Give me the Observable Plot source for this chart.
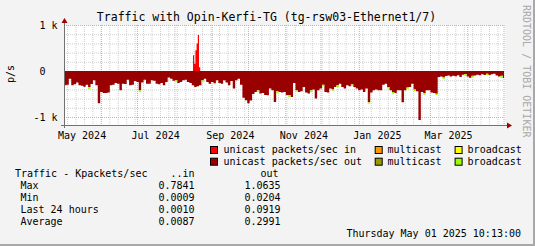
<!DOCTYPE html>
<html><head><meta charset="utf-8">
<script src="https://cdn.jsdelivr.net/npm/d3@7"></script>
<script src="https://cdn.jsdelivr.net/npm/@observablehq/plot@0.6"></script>
<style>
html,body{margin:0;padding:0;background:#f3f3f3;}
#chart{position:relative;width:535px;height:246px;overflow:hidden;}
#chart svg{display:block;}
</style></head><body><div id="chart"></div>
<script>
// ---------- data ----------
const startTime = "2024-05-01T10:13:00Z";
const endTime = "2025-05-01T10:13:00Z";
const binDays = 2;
// unicast packets/sec out (plotted negative), one value per 2-day bin
const unicastOut = [
 -311,-300,-166,-311,-290,-250,-311,-320,-340,-300,
 -350,-280,-200,-311,-700,-456,-478,-478,-470,-311,
 -300,-260,-275,-420,-275,-280,-188,-311,-300,-220,
 -238,-420,-250,-190,-275,-275,-202,-210,-275,-290,
 -260,-311,-240,-140,-166,-210,-200,-260,-238,-202,
 -188,-238,-260,-311,-347,-330,-311,-202,-166,-238,
 -275,-238,-260,-202,-260,-275,-202,-250,-311,-220,
 -383,-202,-166,-300,-579,-637,-700,-640,-500,-456,
 -420,-490,-478,-520,-528,-383,-420,-673,-440,-456,
 -470,-456,-520,-528,-565,-260,-420,-456,-440,-347,
 -470,-490,-420,-400,-600,-420,-383,-300,-456,-470,
 -383,-400,-347,-311,-275,-347,-383,-311,-330,-290,
 -347,-383,-420,-400,-456,-383,-680,-470,-420,-400,
 -420,-420,-300,-275,-347,-420,-456,-478,-420,-420,
 -680,-420,-360,-347,-275,-400,-440,-1063,-456,-478,
 -420,-420,-470,-478,-492,-130,-120,-140,-110,-100,
 -120,-105,-115,-95,-130,-80,-65,-120,-145,-105,
 -100,-80,-90,-70,-85,-60,-85,-70,-60,-100,
 -120,-105,-150
];
// broadcast out (stacked below unicast out): bin index and value
const broadcastOutBins = [10,31,46,57,62,80,88,93,96,102,107,111,113,119,126,134,136,142,145,149,154,157,166,169,175,181];
const broadcastOutValues = [40,35,30,40,30,35,40,35,30,40,35,30,40,35,30,35,40,30,35,40,35,30,35,30,35,40];
// unicast packets/sec in: daily values from day 107
const unicastInStartDay = 107;
const unicastIn = [340,160,450,600,784,80];

const tickMonths = ["2024-05-01","2024-07-01","2024-09-01","2024-11-01","2025-01-01","2025-03-01"];
const tickLabels = ["May 2024","Jul 2024","Sep 2024","Nov 2024","Jan 2025","Mar 2025"];
const yTicks = [-1000, 0, 1000];
const yTickLabels = ["-1 k", "0\u00a0\u00a0", "1 k"];
const yMin = -1174, yMax = 1000;

const colors = {
  uIn:"#ff0000", mIn:"#ff9900", bIn:"#ffff00",
  uOut:"#990000", mOut:"#999900", bOut:"#99ff00",
  grid:"#cfcfcf", mgrid:"#e8a3a3", axis:"#707070", arrow:"#a00000"
};

const legendRows = [
  [["unicast packets/sec in", colors.uIn], ["multicast", colors.mIn], ["broadcast", colors.bIn]],
  [["unicast packets/sec out", colors.uOut], ["multicast", colors.mOut], ["broadcast", colors.bOut]]
];
const statsTitle = "Traffic - Kpackets/sec";
const statsHeaders = ["..in", "out"];
const statsLabels = ["Max", "Min", "Last 24 hours", "Average"];
const statsIn = ["0.7841", "0.0009", "0.0010", "0.0087"];
const statsOut = ["1.0635", "0.0204", "0.0919", "0.2991"];
const titleText = "Traffic with Opin-Kerfi-TG (tg-rsw03-Ethernet1/7)";
const yLabel = "p/s";
const watermark = "RRDTOOL / TOBI OETIKER";
const stamp = "Thursday May 01 2025 10:13:00";

// ---------- build ----------
const DAY = 86400000;
const t0 = new Date(startTime), t1 = new Date(endTime);
const outData = unicastOut.map((v, i) => ({date: new Date(+t0 + i * binDays * DAY), v}));
outData.push({date: t1, v: unicastOut[unicastOut.length - 1]});
const bcData = broadcastOutBins.map((k, i) => ({
  date: new Date(+t0 + k * binDays * DAY),
  end: new Date(+t0 + (k + 1) * binDays * DAY),
  top: unicastOut[k],
  bottom: unicastOut[k] - broadcastOutValues[i]
}));
const inData = unicastIn.map((v, i) => ({date: new Date(+t0 + (unicastInStartDay + i) * DAY), v}));
inData.push({date: new Date(+t0 + (unicastInStartDay + unicastIn.length) * DAY), v: 0});

const weeks = d3.utcSaturday.range(t0, t1);
const months = d3.utcMonth.range(t0, t1);
const minorY = d3.range(-1000, 1001, 200).filter(v => v % 1000 !== 0);
const majorY = yTicks;
const tickDates = tickMonths.map(s => new Date(+new Date(s + "T00:00:00Z") + 15 * DAY));
const labelMap = new Map(tickDates.map((d, i) => [+d, tickLabels[i]]));
const yLabelMap = new Map(yTicks.map((v, i) => [v, yTickLabels[i]]));

const FONT = "'DejaVu Sans Mono', monospace";
const chart = Plot.plot({
  width: 535, height: 246,
  marginLeft: 64, marginRight: 31, marginTop: 25, marginBottom: 121,
  style: {fontFamily: FONT, fontSize: "10px", background: "#f3f3f3", color: "#000"},
  x: {type: "utc", domain: [t0, t1], label: null},
  y: {domain: [yMin, yMax], label: null},
  marks: [
    Plot.frame({fill: "#ffffff", stroke: "none"}),
    Plot.ruleX(weeks, {stroke: colors.grid, strokeDasharray: "1,1"}),
    Plot.ruleY(minorY, {stroke: colors.grid, strokeDasharray: "1,1"}),
    Plot.ruleX(months, {stroke: colors.mgrid, strokeDasharray: "1,1"}),
    Plot.ruleY(majorY, {stroke: colors.mgrid, strokeDasharray: "1,1"}),
    Plot.areaY(outData, {x: "date", y: "v", curve: "step-after", fill: colors.uOut}),
    Plot.rect(bcData, {x1: "date", x2: "end", y1: "top", y2: "bottom", fill: colors.bOut}),
    Plot.areaY(inData, {x: "date", y: "v", curve: "step-after", fill: colors.uIn}),
    Plot.axisX(tickDates, {tickFormat: d => labelMap.get(+d), tickSize: 0, tickPadding: 6, fontSize: 10}),
    Plot.axisY(yTicks, {tickFormat: v => yLabelMap.get(v), tickSize: 0, tickPadding: 7, fontSize: 10})
  ]
});
document.getElementById("chart").appendChild(chart);

const svg = d3.select(chart);
const xs = chart.scale("x"), ys = chart.scale("y");
const L = Math.round(xs.apply(t0)), R = Math.round(xs.apply(t1));
const T = Math.round(ys.apply(yMax)), B = Math.round(ys.apply(yMin));

// axes with arrows
const g = svg.append("g");
g.append("line").attr("x1", L + 0.5).attr("x2", L + 0.5).attr("y1", T - 5).attr("y2", B + 3)
  .attr("stroke", colors.axis).attr("stroke-width", 1);
g.append("line").attr("x1", L - 3).attr("x2", R + 4).attr("y1", B + 0.5).attr("y2", B + 0.5)
  .attr("stroke", colors.axis).attr("stroke-width", 1);
g.append("path").attr("d", `M${L - 2.5},${T - 2}L${L + 3.5},${T - 2}L${L + 0.5},${T - 7}Z`).attr("fill", colors.arrow);
g.append("path").attr("d", `M${R + 3},${B - 2.5}L${R + 3},${B + 3.5}L${R + 8},${B + 0.5}Z`).attr("fill", colors.arrow);

// border shade
g.append("rect").attr("x", 0).attr("y", 244).attr("width", 535).attr("height", 2).attr("fill", "#a8a8a8");
g.append("rect").attr("x", 533).attr("y", 0).attr("width", 2).attr("height", 246).attr("fill", "#a8a8a8");

const txt = (x, y, s, opts = {}) => {
  const t = svg.append("text").attr("x", x).attr("y", y).text(s)
    .attr("font-family", FONT).attr("font-size", opts.size || 10)
    .attr("fill", opts.fill || "#000").attr("text-anchor", opts.anchor || "start")
    .style("white-space", "pre");
  if (opts.transform) t.attr("transform", opts.transform);
  return t;
};
txt(266.5, 21, titleText, {size: 11.5, anchor: "middle"});
svg.append("text").text(yLabel).attr("font-family", FONT).attr("font-size", 10)
  .attr("text-anchor", "middle").attr("transform", "translate(14,74) rotate(-90)");
svg.append("text").text(watermark).attr("font-family", FONT).attr("font-size", 10)
  .attr("text-anchor", "start").attr("fill", "#a8a8a8").attr("transform", "translate(523,5) rotate(90)");

// legend
const legX = [[210, 223.5], [374.7, 387.4], [454.6, 467.6]];
const legY = [153.3, 165];
legendRows.forEach((row, r) => {
  row.forEach(([label, col], c) => {
    svg.append("rect").attr("x", legX[c][0] + 0.5).attr("y", legY[r] - 6.8).attr("width", 7).attr("height", 7)
      .attr("fill", col).attr("stroke", "#000").attr("stroke-width", 1);
    txt(legX[c][1], legY[r], label);
  });
});

// stats table
txt(15, 177, statsTitle);
txt(194.5, 177, statsHeaders[0], {anchor: "end"});
txt(260.5, 177, statsHeaders[1]);
statsLabels.forEach((lab, i) => {
  const y = 189 + i * 12;
  txt(20.5, y, lab);
  txt(194.5, y, statsIn[i], {anchor: "end"});
  txt(280.5, y, statsOut[i], {anchor: "end"});
});
txt(521, 237, stamp, {anchor: "end"});
</script></body></html>
